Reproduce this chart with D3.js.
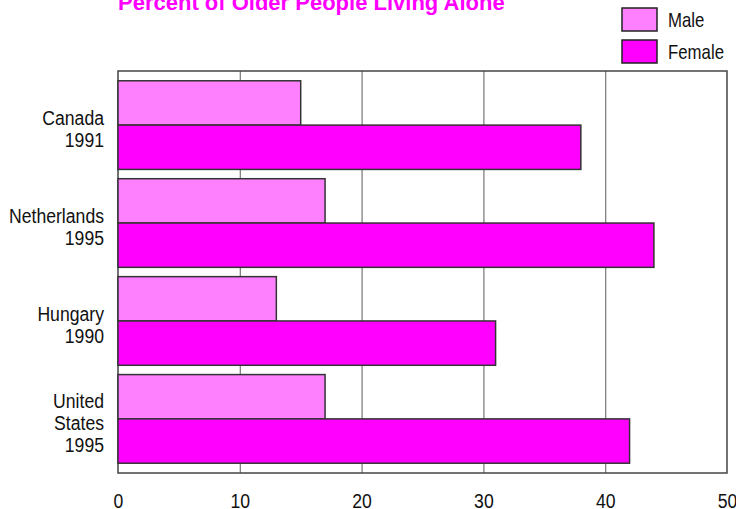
<!DOCTYPE html>
<html>
<head>
<meta charset="utf-8">
<script src="https://cdn.jsdelivr.net/npm/d3@7"></script>
<style>
  body { margin: 0; background: #fff; }
  text { font-family: "Liberation Sans", Arial, sans-serif; }
</style>
</head>
<body>
<div id="draw"></div>
<script>
// data
var countries = ['Canada 1991', 'Netherlands 1995', 'Hungary 1990', 'United States 1995'];
var countryLines = [['Canada', '1991'], ['Netherlands', '1995'], ['Hungary', '1990'], ['United', 'States', '1995']];
var series = ['Male', 'Female'];
var male = [15, 17, 13, 17];
var female = [38, 44, 31, 42];
var xTicks = [0, 10, 20, 30, 40, 50];

var colors = { Male: '#ff80ff', Female: '#ff00ff' };

var W = 736, H = 509;
var pLeft = 118, pRight = 727, pTop = 71, pBottom = 473;
var narrow = 'scale(0.84,1)'; // the reference uses a condensed face

var svg = d3.select('#draw').append('svg').attr('width', W).attr('height', H);

var x = d3.scaleLinear().domain([0, 50]).range([pLeft, pRight]);
var y = d3.scaleBand().domain(countries).range([pTop, pBottom]).paddingInner(0.095).paddingOuter(0.1);
var ys = d3.scaleBand().domain(series).range([0, y.bandwidth()]);

// title
svg.append('text')
  .attr('x', pLeft)
  .attr('y', 10)
  .attr('font-size', 22)
  .attr('font-weight', 'bold')
  .attr('fill', '#ff00ff')
  .text('Percent of Older People Living Alone');

// gridlines
svg.append('g')
  .attr('transform', 'translate(0,' + pBottom + ')')
  .call(d3.axisBottom(x).tickValues(xTicks.slice(1, -1)).tickSize(-(pBottom - pTop)).tickFormat(''))
  .call(function(g) { g.select('.domain').remove(); })
  .selectAll('line').attr('stroke', '#777').attr('stroke-width', 1.2);

// tick labels
svg.append('g')
  .attr('transform', 'translate(0,' + (pBottom + 17) + ')')
  .call(d3.axisBottom(x).tickValues(xTicks).tickSize(0).tickFormat(d3.format('d')))
  .call(function(g) { g.select('.domain').remove(); })
  .selectAll('text')
  .attr('font-size', 21)
  .attr('fill', '#111')
  .attr('transform', narrow);
svg.selectAll('.tick text').attr('font-family', null);

// frame
svg.append('rect')
  .attr('x', pLeft).attr('y', pTop)
  .attr('width', pRight - pLeft).attr('height', pBottom - pTop)
  .attr('fill', 'none').attr('stroke', '#444').attr('stroke-width', 1.5);

// bars
var rows = countries.map(function(c, i) {
  return { country: c, Male: male[i], Female: female[i] };
});
var grp = svg.append('g').selectAll('g').data(rows).enter().append('g')
  .attr('transform', function(d) { return 'translate(0,' + y(d.country) + ')'; });
grp.selectAll('rect').data(function(d) {
  return series.map(function(s) { return { key: s, value: d[s] }; });
}).enter().append('rect')
  .attr('x', x(0))
  .attr('y', function(d) { return ys(d.key); })
  .attr('width', function(d) { return x(d.value) - x(0); })
  .attr('height', ys.bandwidth())
  .attr('fill', function(d) { return colors[d.key]; })
  .attr('stroke', '#333')
  .attr('stroke-width', 1.5);

// country labels
var lineH = 22;
countries.forEach(function(c, i) {
  var lines = countryLines[i];
  var cy = y(c) + y.bandwidth() / 2 + 4;
  var t = svg.append('text')
    .attr('transform', 'translate(104,' + cy + ') ' + narrow)
    .attr('text-anchor', 'end')
    .attr('font-size', 21)
    .attr('fill', '#111');
  lines.forEach(function(l, j) {
    t.append('tspan')
      .attr('x', 0)
      .attr('y', (j - (lines.length - 1) / 2) * lineH + 7)
      .text(l);
  });
});

// legend
var leg = svg.append('g').selectAll('g').data(series).enter().append('g')
  .attr('transform', function(d, i) { return 'translate(622,' + (8 + i * 32) + ')'; });
leg.append('rect')
  .attr('width', 35).attr('height', 23)
  .attr('fill', function(d) { return colors[d]; })
  .attr('stroke', '#222').attr('stroke-width', 1.5);
leg.append('text')
  .attr('transform', 'translate(46,19) ' + narrow)
  .attr('font-size', 20)
  .attr('fill', '#111')
  .text(function(d) { return d; });
</script>
</body>
</html>
